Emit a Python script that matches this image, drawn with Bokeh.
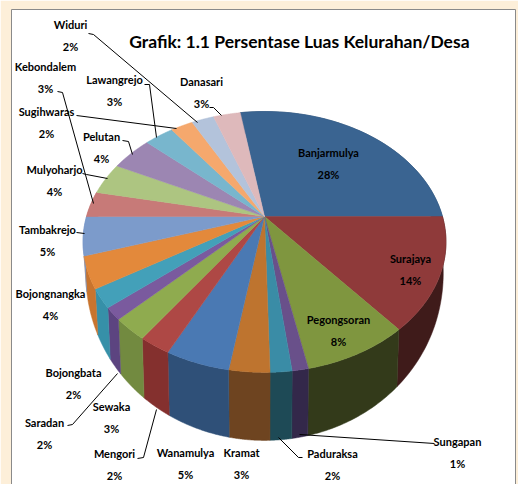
import numpy as np
from bokeh.plotting import figure
from bokeh.models import Range1d
from bokeh.core.properties import value
from bokeh.embed import file_html
from bokeh.resources import INLINE

title_text = "Grafik: 1.1 Persentase  Luas Kelurahan/Desa"
names = ["Banjarmulya", "Surajaya", "Pegongsoran", "Sungapan", "Paduraksa", "Kramat", "Wanamulya",
         "Mengori", "Sewaka", "Saradan", "Bojongbata", "Bojongnangka", "Tambakrejo", "Kebondalem",
         "Mulyoharjo", "Pelutan", "Lawangrejo", "Sugihwaras", "Widuri", "Danasari"]
values = [27.6, 13.9, 7.9, 1.2, 1.6, 3.0, 4.8, 2.4, 2.7, 1.5, 2.3, 3.9, 4.8, 3.2, 4.0, 4.4, 3.1, 2.4, 2.4, 2.9]
percent_labels = ["28%", "14%", "8%", "1%", "2%", "3%", "5%", "2%", "3%", "2%", "2%", "4%", "5%", "3%",
                  "4%", "4%", "3%", "2%", "2%", "3%"]
top_colors = ["#3A6491", "#8F3A3A", "#7F963F", "#69508A", "#3A8CA6", "#BE742F", "#4A79B3", "#AE4845",
              "#8FAB4F", "#7A5A9E", "#43A0B9", "#E3893B", "#7C9BCB", "#C77A78", "#ADC581", "#9C86B2",
              "#78B6CD", "#F5A86D", "#B3C3DB", "#DEB9BB"]
wall_colors = ["#2C4A6C", "#3F1B1A", "#333A1A", "#33284A", "#1E4A56", "#6E4420", "#2F5078", "#84302E",
               "#728A40", "#5C4480", "#3690A8", "#C8742E", "#7C9BCB", "#C77A78", "#ADC581", "#9C86B2",
               "#78B6CD", "#F5A86D", "#B3C3DB", "#DEB9BB"]

# layout (screen pixels of the window)
CX, CY, RX, RY, PERSP = 264.0, 216.0, 178.0, 125.5, 0.195
label_pos = [(328, 152), (410, 258), (338, 319), (457, 441), (332, 453), (241, 452), (185, 452),
             (114, 453), (111, 406), (44, 422), (73, 372), (50, 293), (47, 229), (45, 66),
             (54, 169), (101, 136), (114, 79), (46, 111), (70, 24), (201, 81)]
leaders = [
    ([88, 93, 197], [33, 34, 122]),
    ([57, 62, 93], [91, 92, 203]),
    ([144, 149, 156], [84, 84, 137]),
    ([209, 213, 221], [107, 107, 115]),
    ([76, 176], [115, 128]),
    ([122, 128, 132], [140, 141, 154]),
    ([82, 86, 107], [173, 174, 178]),
    ([76, 84], [232, 233]),
    ([67, 72, 117], [425, 424, 373]),
    ([137, 143, 156], [458, 457, 409]),
    ([302, 298, 278], [457, 457, 437]),
    ([434, 299], [443, 434]),
]

def rim(theta):
    c, s = np.cos(theta), np.sin(theta)
    w = 1 + PERSP * c
    return CX + RX * s / w, CY - RY * c / w

def bottom_rim(theta):
    x, y = rim(theta)
    depth = 22 + 46 * np.maximum(-np.cos(theta), 0)
    return CX + (x - CX) * 0.985, y + depth

p = figure(width=518, height=484, output_backend="svg", toolbar_location=None,
           x_range=Range1d(0, 518), y_range=Range1d(484, 0), min_border=0,
           background_fill_color="#ffffff", border_fill_color="#ffffff")
p.axis.visible = False
p.grid.visible = False
p.outline_line_color = None

# cream backdrop around the chart box, and the box's border
p.quad(left=[0], right=[518], top=[0], bottom=[484], fill_color="#FDEFD9", line_color=None)
p.quad(left=[11], right=[515], top=[9], bottom=[484], fill_color="#ffffff", line_color=None)
p.line([11, 11, 515, 515], [484, 9, 9, 484], line_color="#8a8a8a", line_width=1)

fractions = np.cumsum([0] + values) / sum(values)
start = np.pi / 2 - 2 * np.pi * fractions[1]
angles = start + 2 * np.pi * fractions

# walls, then top surface
for i in range(len(values)):
    a0, a1 = angles[i], angles[i + 1]
    if a1 < np.pi / 2 or a0 > 3 * np.pi / 2:
        continue
    t = np.linspace(a0, a1, 40)
    xt, yt = rim(t)
    xb, yb = bottom_rim(t)
    p.patch(np.r_[xt, xb[::-1]], np.r_[yt, yb[::-1]], fill_color=wall_colors[i],
            line_color=wall_colors[i], line_width=0.5)
for i in range(len(values)):
    t = np.linspace(angles[i], angles[i + 1], 60)
    xt, yt = rim(t)
    p.patch(np.r_[CX, xt], np.r_[CY, yt], fill_color=top_colors[i],
            line_color=top_colors[i], line_width=0.5)

for xs, ys in leaders:
    p.line(xs, ys, line_color="#000000", line_width=1)

FONT = "Lato"
lx = [q[0] for q in label_pos]
ly = [q[1] for q in label_pos]
p.text(lx, ly, text=names, text_font=value(FONT), text_font_style="bold", text_font_size="11px",
       text_align="center", text_baseline="middle", text_color="#000000")
p.text(lx, [y + 22 for y in ly], text=percent_labels, text_font=value(FONT), text_font_style="bold",
       text_font_size="11px", text_align="center", text_baseline="middle", text_color="#000000")
p.text([301], [41], text=[title_text], text_font=value(FONT), text_font_style="bold",
       text_font_size="17.5px", text_align="center", text_baseline="middle", text_color="#000000")

open("out.html", "w").write(file_html(p, INLINE))
